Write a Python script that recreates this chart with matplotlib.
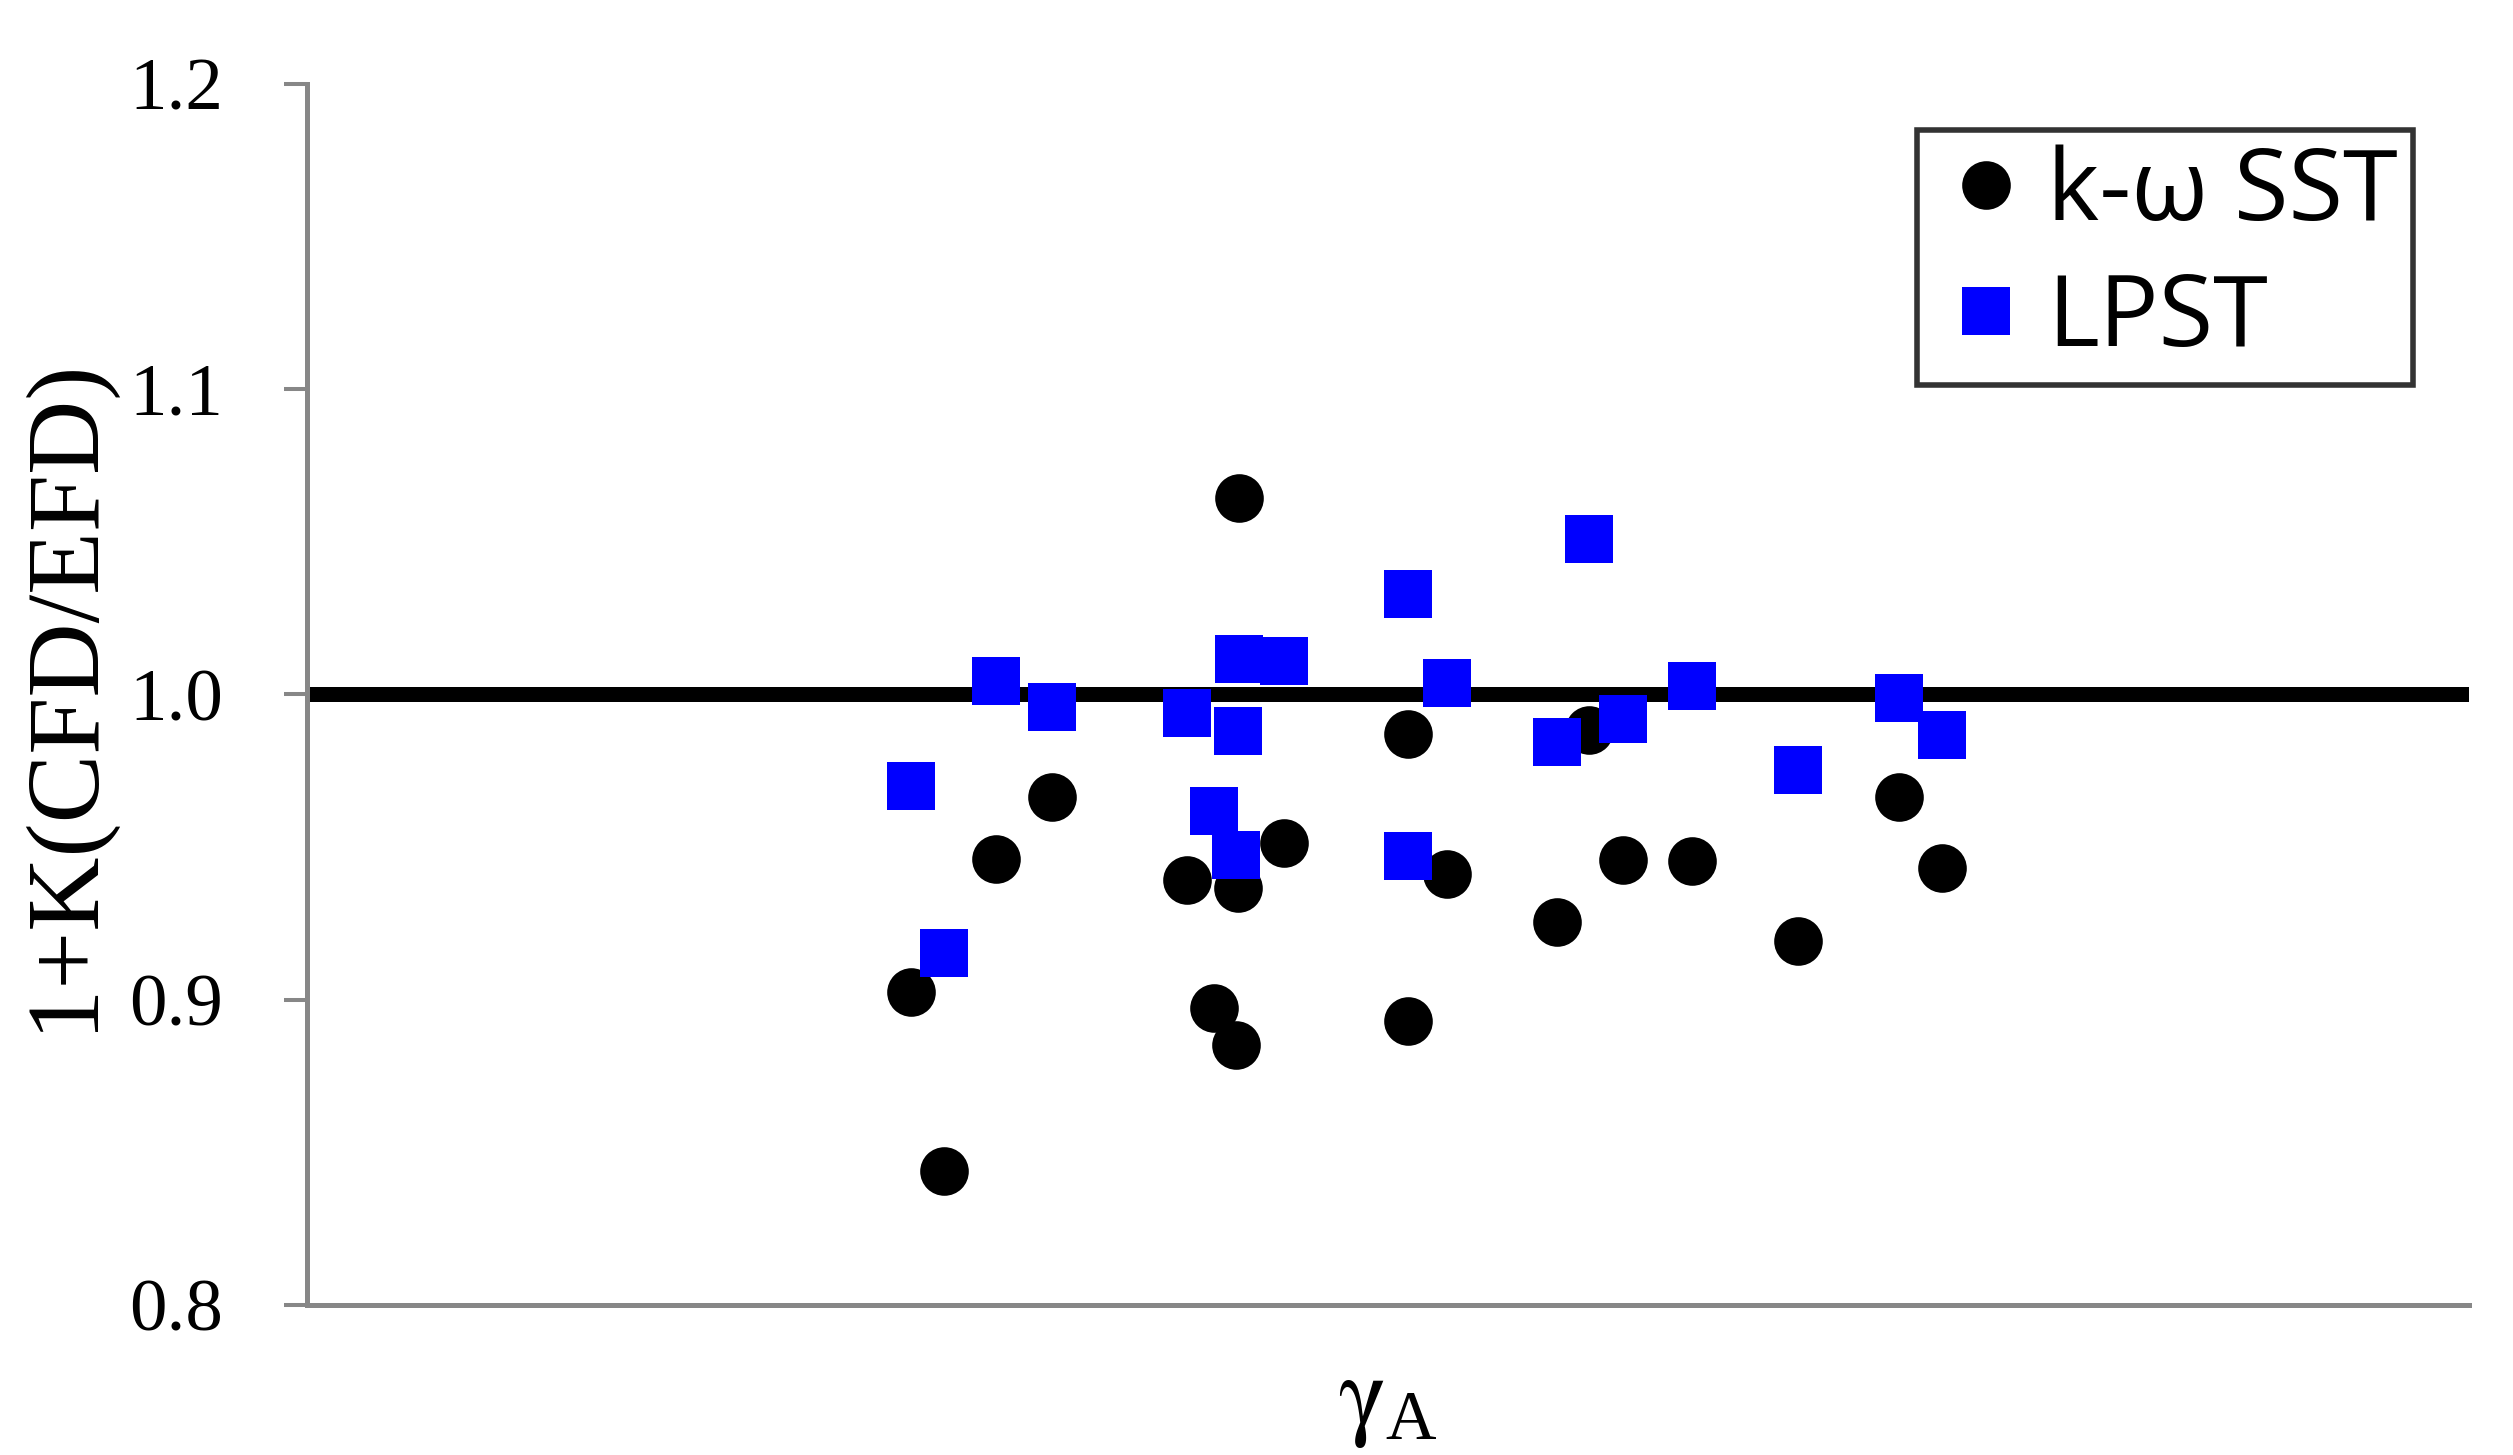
import numpy as np
from matplotlib import pyplot as plt

# x positions (relative, no ticks on the gamma_A axis)
gamma_a = [27.92, 29.48, 31.87, 34.44, 40.69, 41.94, 43.05, 42.98, 43.10, 45.20,
           50.91, 50.91, 52.73, 57.80, 59.29, 60.87, 64.08, 68.95, 73.63, 75.61]
kw_sst = [0.9025, 0.8438, 0.9461, 0.9663, 0.9392, 0.8973, 0.9366, 0.8852, 1.0642, 0.9513,
          0.9870, 0.8931, 0.9411, 0.9254, 0.9884, 0.9457, 0.9455, 0.9192, 0.9664, 0.9431]
lpst = [0.9700, 0.9153, 1.0044, 0.9958, 0.9938, 0.9618, 0.9880, 0.9474, 1.0115, 1.0110,
        1.0327, 0.9471, 1.0037, 0.9845, 1.0510, 0.9920, 1.0026, 0.9751, 0.9989, 0.9867]
y_ticks = [0.8, 0.9, 1.0, 1.1, 1.2]

plt.rcParams['font.family'] = 'Liberation Serif'
plt.rcParams['mathtext.fontset'] = 'custom'
plt.rcParams['mathtext.rm'] = 'Liberation Serif'
plt.rcParams['mathtext.it'] = 'STIXGeneral'

grey = '#878787'

fig = plt.figure(figsize=(25.13, 14.55), dpi=100)
ax = fig.add_axes([0.12216, 0.10309, 0.86033, 0.83952])

ax.axhline(1.0, color='black', linewidth=10.8, zorder=1)
ax.plot(gamma_a, kw_sst, linestyle='none', marker='o', markersize=35,
        markeredgewidth=0, color='black', label='k-ω SST', zorder=3)
ax.plot(gamma_a, lpst, linestyle='none', marker='s', markersize=35,
        markeredgewidth=0, color='#0000ff', label='LPST', zorder=4)

ax.set_xlim(0, 100)
ax.set_ylim(0.8, 1.2)
ax.set_yticks(y_ticks)
ax.set_yticklabels(['%.1f' % t for t in y_ticks])
ax.set_xticks([])

for s in ['top', 'right']:
    ax.spines[s].set_visible(False)
for s in ['left', 'bottom']:
    ax.spines[s].set_color(grey)
    ax.spines[s].set_linewidth(3.6)

ax.tick_params(axis='y', direction='out', length=16.5, width=2.9, color=grey,
               pad=44, labelsize=54)

ax.set_ylabel('1+K(CFD/EFD)', fontsize=74)
ax.yaxis.set_label_coords(-0.0902, 0.5)
ax.set_xlabel(r'$\gamma_{\mathrm{A}}$', fontsize=72)
ax.xaxis.set_label_coords(0.5, -0.045)

leg = ax.legend(loc='upper left', bbox_to_anchor=(1917.5 / 2513, 1 - 129.5 / 1455),
                bbox_transform=fig.transFigure, borderaxespad=0,
                prop={'family': ['Open Sans', 'DejaVu Sans'], 'size': 71.6},
                handlelength=1.076, handletextpad=0.075, borderpad=0.15,
                labelspacing=0.27, fancybox=False, numpoints=1)
leg.get_frame().set_edgecolor('black')
leg.get_frame().set_linewidth(4)

fig.savefig('out.png', dpi=100)
